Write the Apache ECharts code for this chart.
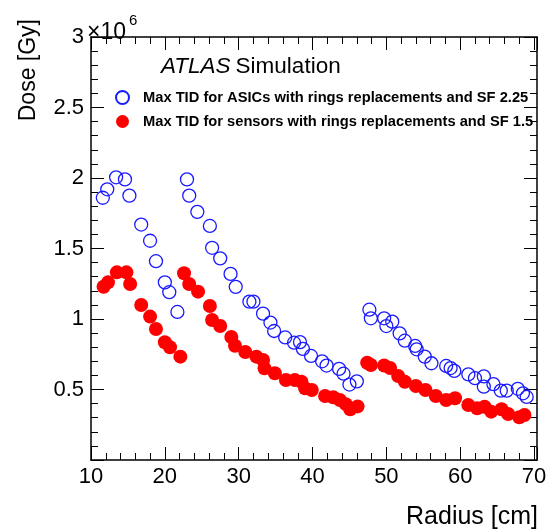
<!DOCTYPE html>
<html><head><meta charset="utf-8">
<script src="https://cdn.jsdelivr.net/npm/echarts@6/dist/echarts.min.js"></script>
<style>html,body{margin:0;padding:0;background:#fff;overflow:hidden}.c{width:554px;height:532px;position:absolute;left:0;top:0}</style>
</head><body><div class="c" id="frame"></div><div class="c" id="plot"></div>
<script>
// Radius [cm]
const xMin = 10, xMax = 70.4, xStep = 10;
// Dose [10^6 Gy]
const yMin = 0, yMax = 3, yStep = 0.5;

const asicName = 'Max TID for ASICs with rings replacements and SF 2.25';
const sensorName = 'Max TID for sensors with rings replacements and SF 1.5';

const asicRadius = [11.6,12.2,13.4,14.6,15.2,16.8,18.0,18.8,20.0,20.6,21.7,
  23.0,23.3,24.4,26.1,26.4,27.5,28.9,29.6,31.45,32.0,33.3,34.3,34.8,36.3,37.5,38.3,38.7,39.8,41.3,41.9,43.6,44.2,45.0,46.0,
  47.7,47.9,49.7,50.0,50.8,51.8,52.5,53.9,54.1,55.2,56.1,58.1,58.7,59.2,61.1,62.0,63.2,63.2,64.5,65.5,66.3,67.8,68.5,69.0];
const asicDose = [1.86,1.92,2.005,1.99,1.875,1.67,1.555,1.41,1.26,1.19,1.05,
  1.99,1.875,1.76,1.66,1.505,1.43,1.32,1.228,1.123,1.123,1.038,0.975,0.915,0.869,0.832,0.836,0.788,0.738,0.70,0.67,0.646,0.612,0.535,0.558,
  1.066,1.005,1.005,0.95,0.981,0.898,0.846,0.809,0.785,0.733,0.686,0.667,0.652,0.632,0.607,0.58,0.593,0.52,0.538,0.492,0.492,0.505,0.473,0.447];

const sensorRadius = [11.7,12.3,13.5,14.8,15.3,16.8,18.0,18.8,20.0,20.7,22.1,
  22.6,23.3,24.5,26.1,26.4,27.5,29.0,29.5,30.9,32.4,33.3,33.5,34.9,36.4,37.6,38.5,39.0,39.9,41.7,42.8,43.7,44.5,45.1,46.1,
  47.4,47.9,49.7,50.5,51.6,52.5,54.0,55.3,56.7,58.1,59.3,61.1,62.3,63.3,64.2,65.6,66.5,68.0,68.7];
const sensorDose = [1.229,1.26,1.331,1.331,1.248,1.099,1.017,0.929,0.835,0.8,0.733,
  1.324,1.248,1.194,1.092,0.993,0.95,0.872,0.81,0.766,0.733,0.709,0.65,0.615,0.567,0.567,0.555,0.508,0.496,0.454,0.445,0.426,0.396,0.36,0.38,
  0.69,0.674,0.67,0.652,0.596,0.555,0.525,0.496,0.454,0.426,0.438,0.39,0.367,0.378,0.343,0.36,0.326,0.303,0.319];

const FONT = '"Liberation Sans", Arial, Helvetica, sans-serif';
const zip = (a, b) => a.map((v, i) => [v, b[i]]);
const GRID = {left: 91, right: 17, top: 37, bottom: 72};

function xAx(pos, showLabel, visible) {
  return {
    type: 'value', position: pos, min: xMin, max: xMax, interval: xStep,
    axisLine: {show: visible, onZero: false, lineStyle: {color: '#000', width: 1.5}},
    axisTick: {show: visible, inside: true, length: 13, lineStyle: {color: '#000', width: 1}},
    minorTick: {show: visible, splitNumber: 5, length: 7, lineStyle: {color: '#000', width: 1}},
    axisLabel: {show: showLabel, color: '#000', fontSize: 22, fontFamily: FONT, margin: 6},
    splitLine: {show: false}, minorSplitLine: {show: false}
  };
}
function yAx(pos, showLabel, visible) {
  return {
    type: 'value', position: pos, min: yMin, max: yMax, interval: yStep,
    axisLine: {show: visible, onZero: false, lineStyle: {color: '#000', width: 1.5}},
    axisTick: {show: visible, inside: true, length: 13, lineStyle: {color: '#000', width: 1}},
    minorTick: {show: visible, splitNumber: 5, length: 7, lineStyle: {color: '#000', width: 1}},
    axisLabel: {show: showLabel, color: '#000', fontSize: 22, fontFamily: FONT, margin: 7,
      formatter: v => (v === 0 ? '' : String(v))},
    splitLine: {show: false}, minorSplitLine: {show: false}
  };
}

// Frame layer: axes, ticks, titles
const frame = echarts.init(document.getElementById('frame'));
frame.setOption({
  animation: false,
  backgroundColor: '#fff',
  title: {
    text: '{i|ATLAS} {n|Simulation}', left: 161, top: 55, padding: 0,
    textStyle: {fontWeight: 'normal', rich: {
      i: {fontSize: 22.5, fontStyle: 'italic', fontWeight: 'normal', fontFamily: FONT, color: '#000'},
      n: {fontSize: 22.5, fontWeight: 'normal', fontFamily: FONT, color: '#000'}}}
  },
  grid: GRID,
  xAxis: [xAx('bottom', true, true), xAx('top', false, true)],
  yAxis: [yAx('left', true, true), yAx('right', false, true)],
  graphic: [
    {type: 'text', x: 87, y: 33, style: {text: '×10', fontSize: 23, fontFamily: FONT, fill: '#000', textVerticalAlign: 'middle'}},
    {type: 'text', x: 129, y: 21, style: {text: '6', fontSize: 15, fontFamily: FONT, fill: '#000', textVerticalAlign: 'middle'}},
    {type: 'text', x: 29, y: 19, rotation: Math.PI / 2,
      style: {text: 'Dose [Gy]', fontSize: 23, fontFamily: FONT, fill: '#000', textAlign: 'right', textVerticalAlign: 'middle'}},
    {type: 'text', x: 538, y: 517,
      style: {text: 'Radius [cm]', fontSize: 25, fontFamily: FONT, fill: '#000', textAlign: 'right', textVerticalAlign: 'middle'}}
  ]
});

// Data layer: same grid and scales, markers and legend
const plot = echarts.init(document.getElementById('plot'));
plot.setOption({
  animation: false,
  backgroundColor: 'transparent',
  grid: GRID,
  xAxis: [xAx('bottom', false, false)],
  yAxis: [yAx('left', false, false)],
  legend: {
    orient: 'vertical', left: 110, top: 85, itemWidth: 13, itemHeight: 13, itemGap: 9,
    textStyle: {fontSize: 14.7, fontWeight: 'bold', color: '#000', fontFamily: FONT, padding: [0, 0, 0, 9]},
    data: [asicName, sensorName]
  },
  series: [
    {name: asicName, type: 'scatter', symbol: 'circle', symbolSize: 13,
      itemStyle: {color: 'rgba(255,255,255,0)', borderColor: '#1a1aff', borderWidth: 1.3, opacity: 1},
      data: zip(asicRadius, asicDose)},
    {name: sensorName, type: 'scatter', symbol: 'circle', symbolSize: 14,
      itemStyle: {color: '#ff0000', opacity: 1},
      data: zip(sensorRadius, sensorDose)}
  ]
});
</script></body></html>
